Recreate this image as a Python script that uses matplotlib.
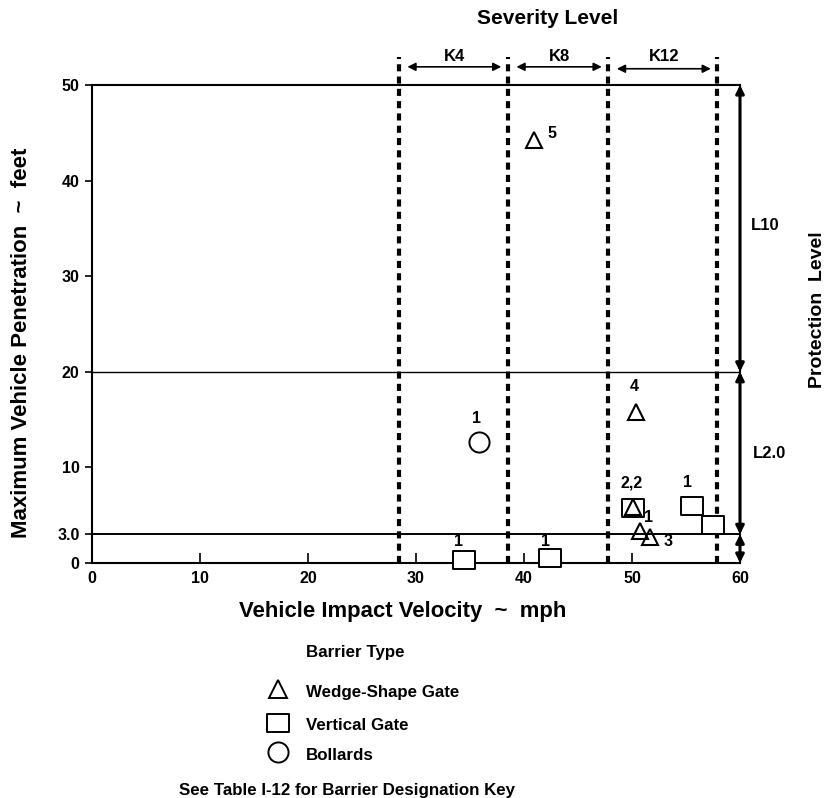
import numpy as np
import matplotlib.pyplot as plt
from matplotlib.path import Path

plt.rcParams['font.family'] = ['Liberation Sans', 'DejaVu Sans']
plt.rcParams['font.weight'] = 'bold'

# barrier test results (mph, feet)
wedge_x = [40.9, 50.4, 50.1, 50.7, 51.7]
wedge_y = [44.2, 15.8, 5.9, 3.3, 2.7]
gate_x = [50.1, 55.6, 57.5, 34.4, 42.4]
gate_y = [5.75, 6.0, 4.0, 0.3, 0.5]
bollard_x = [35.8]
bollard_y = [12.7]

# designation labels next to the points
label_text = ['5', '1', '4', '2,2', '1', '3', '1', '1', '1']
label_x = [42.2, 35.6, 50.2, 50.0, 51.5, 52.9, 55.1, 33.9, 42.0]
label_y = [44.9, 15.1, 18.5, 8.4, 4.8, 2.3, 8.4, 2.2, 2.2]

# severity / protection bands
severity_edges = [28.4, 38.5, 47.8, 57.9]
severity_names = ['K4', 'K8', 'K12']
protection_edges = [50, 20, 3.0, 0]
protection_names = ['L10', 'L2.0']

x_ticks = [0, 10, 20, 30, 40, 50, 60]
y_ticks = [0, 3.0, 10, 20, 30, 40, 50]
y_ticklabels = ['0', '3.0', '10', '20', '30', '40', '50']

W, H = 831, 798
fig = plt.figure(figsize=(W / 100, H / 100), dpi=100)
ax = fig.add_axes([92 / W, 1 - 563 / H, 648 / W, 478 / H])
ax.set_xlim(0, 60)
ax.set_ylim(0, 50)

def fx(px):
    return px / W

def fy(py):
    return 1 - py / H

for s in ax.spines.values():
    s.set_linewidth(1.5)

ax.set_xticks(x_ticks)
ax.set_yticks(y_ticks)
ax.set_yticklabels(y_ticklabels)
ax.tick_params(axis='x', direction='in', length=7, width=1.2, labelsize=11.5, pad=6)
ax.tick_params(axis='y', direction='out', length=5, width=1.2, labelsize=11.5, pad=4)
for lab in ax.get_xticklabels() + ax.get_yticklabels():
    lab.set_fontweight('bold')

# horizontal band lines
ax.axhline(20, color='black', lw=1.0)
ax.axhline(3.0, color='black', lw=1.4)

# dotted severity boundaries
for xv in severity_edges:
    ax.plot([xv, xv], [0, 52.9], color='black', lw=3, linestyle=(0, (1.7, 1.25)),
            dash_capstyle='butt', clip_on=False)

# severity arrows at the top
arrow_y = [51.9, 51.9, 51.7]
for i, name in enumerate(severity_names):
    x0 = severity_edges[i] + 0.8
    x1 = severity_edges[i + 1] - 0.6
    ax.annotate('', xy=(x1, arrow_y[i]), xytext=(x0, arrow_y[i]),
                arrowprops=dict(arrowstyle='<|-|>', color='black', lw=1.2,
                                mutation_scale=12, shrinkA=0, shrinkB=0),
                annotation_clip=False)
    ax.text((x0 + x1) / 2, 53.0, name, ha='center', va='center',
            fontsize=12, fontweight='bold', clip_on=False)

# protection arrows on the right
for i in range(len(protection_edges) - 1):
    ax.annotate('', xy=(60, protection_edges[i]), xytext=(60, protection_edges[i + 1]),
                arrowprops=dict(arrowstyle='<|-|>', color='black', lw=2.2,
                                mutation_scale=12, shrinkA=0, shrinkB=0),
                annotation_clip=False)
fig.text(fx(751), fy(225), protection_names[0], ha='left', va='center', fontsize=12,
         fontweight='bold')
fig.text(fx(753), fy(453), protection_names[1], ha='left', va='center', fontsize=12,
         fontweight='bold')

# rectangle marker, wider than tall
rect = Path([(-1.28, -1), (1.28, -1), (1.28, 1), (-1.28, 1), (-1.28, -1)],
            [Path.MOVETO, Path.LINETO, Path.LINETO, Path.LINETO, Path.CLOSEPOLY])

ax.plot(gate_x, gate_y, linestyle='none', marker=rect, markersize=16.5,
        markerfacecolor='white', markeredgecolor='black', markeredgewidth=1.4,
        clip_on=False, zorder=5)
ax.plot(wedge_x, wedge_y, linestyle='none', marker='^', markersize=11.5,
        markerfacecolor='none', markeredgecolor='black', markeredgewidth=1.5,
        clip_on=False, zorder=6)
ax.plot(bollard_x, bollard_y, linestyle='none', marker='o', markersize=14.5,
        markerfacecolor='white', markeredgecolor='black', markeredgewidth=1.4,
        clip_on=False, zorder=5)

for t, xv, yv in zip(label_text, label_x, label_y):
    ha = 'left' if t in ('5', '3') else 'center'
    ax.text(xv, yv, t, ha=ha, va='center', fontsize=11.5, fontweight='bold', zorder=7)

# titles
fig.text(fx(548), fy(18), 'Severity Level', ha='center', va='center', fontsize=15,
         fontweight='bold')
fig.text(fx(403), fy(612), 'Vehicle Impact Velocity  ~  mph', ha='center', va='center',
         fontsize=15.9, fontweight='bold')
fig.text(fx(22), fy(343), 'Maximum Vehicle Penetration  ~  feet', ha='center', va='center',
         rotation=90, fontsize=16, fontweight='bold')
fig.text(fx(818), fy(310), 'Protection  Level', ha='center', va='center',
         rotation=90, fontsize=14, fontweight='bold')

# legend block under the chart
fig.text(fx(355), fy(653), 'Barrier Type', ha='center', va='center', fontsize=12.2,
         fontweight='bold')
leg_names = ['Wedge-Shape Gate', 'Vertical Gate', 'Bollards']
leg_markers = ['^', rect, 'o']
leg_sizes = [12.5, 16, 14.5]
leg_y = [689, 723, 752]
leg_text_y = [692, 726, 756]
for name, m, ms, ym, yt in zip(leg_names, leg_markers, leg_sizes, leg_y, leg_text_y):
    fig.lines.append(plt.Line2D([fx(278)], [fy(ym)], transform=fig.transFigure,
                                linestyle='none', marker=m, markersize=ms,
                                markerfacecolor='white', markeredgecolor='black',
                                markeredgewidth=1.4))
    fig.text(fx(306), fy(yt), name, ha='left', va='center', fontsize=12.2, fontweight='bold')

fig.text(fx(347), fy(790), 'See Table I-12 for Barrier Designation Key', ha='center',
         va='center', fontsize=12.2, fontweight='bold')

fig.savefig('out.png', dpi=100)
